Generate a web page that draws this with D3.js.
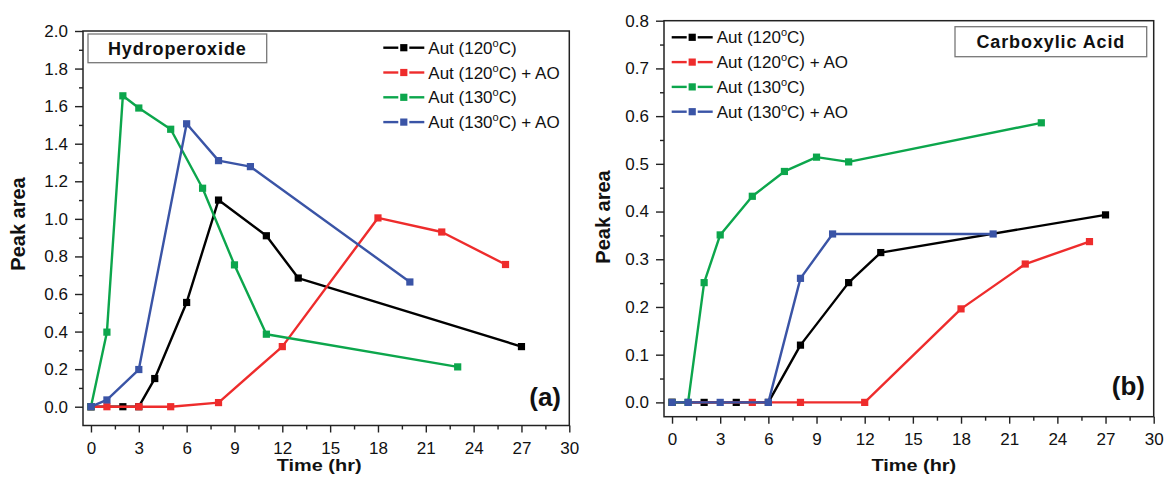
<!DOCTYPE html>
<html>
<head>
<meta charset="utf-8">
<script src="https://cdn.jsdelivr.net/npm/d3@7"></script>
<style>
  html, body { margin: 0; padding: 0; background: #fff; }
  svg { display: block; font-family: "Liberation Sans", Arial, sans-serif; }
</style>
</head>
<body>
<svg id="chart" width="1165" height="477"></svg>
<script>
// ---------- data ----------
const seriesNames = ["Aut (120|C)", "Aut (120|C) + AO", "Aut (130|C)", "Aut (130|C) + AO"];
const seriesColors = ["#000000", "#ee2c2c", "#0ca64c", "#3a54a6"];

const xTicks = [0, 3, 6, 9, 12, 15, 18, 21, 24, 27, 30];
const leftYTicks = [0.0, 0.2, 0.4, 0.6, 0.8, 1.0, 1.2, 1.4, 1.6, 1.8, 2.0];
const rightYTicks = [0.0, 0.1, 0.2, 0.3, 0.4, 0.5, 0.6, 0.7, 0.8];

// Hydroperoxide (a)
const hpAut120X = [0, 2, 3, 4, 6, 8, 11, 13, 27];
const hpAut120Y = [0, 0, 0, 0.15, 0.555, 1.10, 0.91, 0.685, 0.32];
const hpAut120AOX = [0, 1, 3, 5, 8, 12, 18, 22, 26];
const hpAut120AOY = [0, 0, 0, 0, 0.022, 0.32, 1.005, 0.93, 0.757];
const hpAut130X = [0, 1, 2, 3, 5, 7, 9, 11, 23];
const hpAut130Y = [0, 0.397, 1.655, 1.59, 1.477, 1.163, 0.755, 0.386, 0.212];
const hpAut130AOX = [0, 1, 3, 6, 8, 10, 20];
const hpAut130AOY = [0, 0.036, 0.198, 1.506, 1.31, 1.278, 0.664];

// Carboxylic acid (b)
const caAut120X = [0, 2, 4, 6, 8, 11, 13, 27];
const caAut120Y = [0, 0, 0, 0, 0.12, 0.251, 0.314, 0.393];
const caAut120AOX = [0, 5, 8, 12, 18, 22, 26];
const caAut120AOY = [0, 0, 0, 0, 0.196, 0.29, 0.337];
const caAut130X = [0, 1, 2, 3, 5, 7, 9, 11, 23];
const caAut130Y = [0, 0, 0.251, 0.351, 0.432, 0.484, 0.514, 0.504, 0.586];
const caAut130AOX = [0, 1, 3, 6, 8, 10, 20];
const caAut130AOY = [0, 0, 0, 0, 0.26, 0.353, 0.353];

// ---------- drawing ----------
const svg = d3.select("#chart");
const zip = (xs, ys) => xs.map((x, i) => ({ x, y: ys[i] }));

function drawPanel(p) {
  const g = svg.append("g");
  const x = d3.scaleLinear().domain([-0.5, 30]).range([p.left, p.right]);
  const y = d3.scaleLinear().domain(p.yDomain).range([p.bottom, p.top]);

  const xMinor = d3.range(1.5, 30, 3);
  const yMinor = p.yTicks.slice(0, -1).map((v, i) => (v + p.yTicks[i + 1]) / 2);

  const axStyle = sel => {
    sel.select(".domain").remove();
    sel.selectAll("line").attr("stroke", "#222").attr("stroke-width", 1.4);
    sel.selectAll("text").attr("font-size", 17).attr("fill", "#111")
      .attr("font-family", "'Liberation Sans', Arial, sans-serif");
  };

  g.append("g").attr("transform", `translate(0,${p.bottom})`)
    .call(d3.axisBottom(x).tickValues(xTicks).tickSize(7).tickPadding(9).tickFormat(d3.format("d")))
    .call(axStyle);
  g.append("g").attr("transform", `translate(0,${p.bottom})`)
    .call(d3.axisBottom(x).tickValues(xMinor).tickSize(4).tickFormat(""))
    .call(axStyle);
  g.append("g").attr("transform", `translate(${p.left},0)`)
    .call(d3.axisLeft(y).tickValues(p.yTicks).tickSize(8).tickPadding(7).tickFormat(d3.format(".1f")))
    .call(axStyle);
  g.append("g").attr("transform", `translate(${p.left},0)`)
    .call(d3.axisLeft(y).tickValues(yMinor).tickSize(4).tickFormat(""))
    .call(axStyle);

  // frame
  g.append("rect")
    .attr("x", p.left).attr("y", p.top)
    .attr("width", p.right - p.left).attr("height", p.bottom - p.top)
    .attr("fill", "none").attr("stroke", "#222").attr("stroke-width", 1.5);

  // series
  const line = d3.line().x(d => x(d.x)).y(d => y(d.y));
  p.series.forEach((s, i) => {
    const data = zip(s[0], s[1]);
    g.append("path").datum(data)
      .attr("d", line).attr("fill", "none")
      .attr("stroke", seriesColors[i]).attr("stroke-width", 2.4)
      .attr("stroke-linejoin", "round");
    g.selectAll(null).data(data).enter().append("rect")
      .attr("x", d => x(d.x) - 3.6).attr("y", d => y(d.y) - 3.6)
      .attr("width", 7.2).attr("height", 7.2)
      .attr("fill", seriesColors[i]);
  });

  // legend
  seriesNames.forEach((name, i) => {
    const ly = p.legY + i * 24.8;
    const lx = p.legX;
    const lg = g.append("g");
    lg.append("line").attr("x1", lx).attr("x2", lx + 15).attr("y1", ly).attr("y2", ly)
      .attr("stroke", seriesColors[i]).attr("stroke-width", 2.4);
    lg.append("line").attr("x1", lx + 26).attr("x2", lx + 41).attr("y1", ly).attr("y2", ly)
      .attr("stroke", seriesColors[i]).attr("stroke-width", 2.4);
    lg.append("rect").attr("x", lx + 20.5 - 3.6).attr("y", ly - 3.6)
      .attr("width", 7.2).attr("height", 7.2).attr("fill", seriesColors[i]);
    const parts = name.split("|");
    const t = lg.append("text").attr("x", lx + 45).attr("y", ly + 6)
      .attr("font-size", 17).attr("fill", "#111");
    t.append("tspan").text(parts[0]);
    t.append("tspan").attr("dy", -7).attr("font-size", 11).text("o");
    t.append("tspan").attr("dy", 7).text(parts[1]);
  });

  // title box
  g.append("rect").attr("x", p.box[0]).attr("y", p.box[1])
    .attr("width", p.box[2]).attr("height", p.box[3])
    .attr("fill", "#fff").attr("stroke", "#777").attr("stroke-width", 1.3);
  g.append("text").attr("x", p.box[0] + p.box[2] / 2).attr("y", p.box[1] + p.box[3] / 2 + 6.5)
    .attr("text-anchor", "middle").attr("font-size", 18).attr("font-weight", "bold")
    .attr("letter-spacing", 0.9).attr("fill", "#111")
    .text(p.title);

  // panel tag
  g.append("text").attr("x", p.tag[0]).attr("y", p.tag[1])
    .attr("text-anchor", "end").attr("font-size", 26).attr("font-weight", "bold")
    .attr("fill", "#111").text(p.tagText);

  // axis titles
  const cx = (p.left + p.right) / 2 + p.xLabelShift;
  g.append("text")
    .attr("transform", `translate(${cx},471) scale(1.17,1)`)
    .attr("text-anchor", "middle").attr("font-size", 17).attr("font-weight", "bold")
    .attr("fill", "#111").text("Time (hr)");
  g.append("text")
    .attr("transform", `translate(${p.yLabelX},${p.yLabelY}) rotate(-90)`)
    .attr("text-anchor", "middle").attr("font-size", 20).attr("font-weight", "bold")
    .attr("fill", "#111").text("Peak area");
}

drawPanel({
  left: 83, right: 569.3, top: 31, bottom: 425.5,
  yDomain: [-0.1, 2.0], yTicks: leftYTicks,
  series: [[hpAut120X, hpAut120Y], [hpAut120AOX, hpAut120AOY], [hpAut130X, hpAut130Y], [hpAut130AOX, hpAut130AOY]],
  legX: 383.3, legY: 47.7,
  box: [88, 34, 178.7, 28.7], title: "Hydroperoxide",
  tag: [561, 406], tagText: "(a)",
  xLabelShift: -7,
  yLabelX: 25, yLabelY: 224
});

drawPanel({
  left: 664, right: 1153.7, top: 20.7, bottom: 416.7,
  yDomain: [-0.03, 0.8], yTicks: rightYTicks,
  series: [[caAut120X, caAut120Y], [caAut120AOX, caAut120AOY], [caAut130X, caAut130Y], [caAut130AOX, caAut130AOY]],
  legX: 671.7, legY: 37.3,
  box: [955, 26.7, 191.7, 30], title: "Carboxylic Acid",
  tag: [1145, 395], tagText: "(b)",
  xLabelShift: 5,
  yLabelX: 610, yLabelY: 217
});
</script>
</body>
</html>
